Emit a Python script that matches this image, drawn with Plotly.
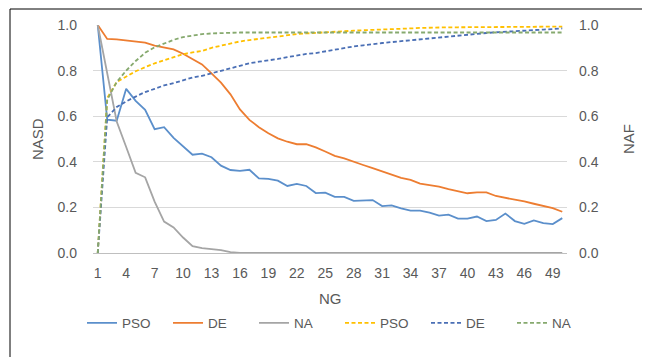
import plotly.graph_objects as go

ng = list(range(1, 51))
tick_labels = [1, 4, 7, 10, 13, 16, 19, 22, 25, 28, 31, 34, 37, 40, 43, 46, 49]

nasd_pso = [1.0, 0.585, 0.58, 0.72, 0.667, 0.628, 0.543, 0.552, 0.505, 0.468,
            0.431, 0.436, 0.42, 0.383, 0.364, 0.36, 0.365, 0.327, 0.325, 0.317,
            0.294, 0.303, 0.294, 0.263, 0.265, 0.246, 0.246, 0.229, 0.232, 0.232,
            0.206, 0.209, 0.196, 0.186, 0.186, 0.177, 0.164, 0.168, 0.151, 0.151,
            0.16, 0.14, 0.145, 0.173, 0.14, 0.128, 0.143, 0.131, 0.127, 0.153]
nasd_de = [1.0, 0.939, 0.937, 0.933, 0.928, 0.923, 0.91, 0.903, 0.893, 0.874,
           0.852, 0.827, 0.788, 0.747, 0.696, 0.63, 0.584, 0.552, 0.525, 0.503,
           0.488, 0.477, 0.477, 0.463, 0.445, 0.426, 0.415, 0.402, 0.386, 0.372,
           0.357, 0.342, 0.33, 0.321, 0.304, 0.298, 0.291, 0.28, 0.27, 0.262,
           0.266, 0.266, 0.25, 0.242, 0.236, 0.226, 0.216, 0.206, 0.197, 0.181]
nasd_na = [1.0, 0.78, 0.577, 0.465, 0.352, 0.332, 0.225, 0.138, 0.112, 0.068,
           0.03, 0.021, 0.017, 0.013, 0.004, 0.0, 0.0, 0.0, 0.0, 0.0,
           0.0, 0.0, 0.0, 0.0, 0.0, 0.0, 0.0, 0.0, 0.0, 0.0,
           0.0, 0.0, 0.0, 0.0, 0.0, 0.0, 0.0, 0.0, 0.0, 0.0,
           0.0, 0.0, 0.0, 0.0, 0.0, 0.0, 0.0, 0.0, 0.0, 0.0]

naf_pso = [0.0, 0.68, 0.75, 0.772, 0.797, 0.815, 0.832, 0.845, 0.86, 0.872,
           0.88, 0.886, 0.9, 0.91, 0.92, 0.928, 0.934, 0.939, 0.947, 0.952,
           0.957, 0.96, 0.963, 0.966, 0.968, 0.971, 0.973, 0.975, 0.977, 0.978,
           0.98, 0.981, 0.983, 0.985, 0.987, 0.989, 0.99, 0.99, 0.99, 0.99,
           0.99, 0.991, 0.991, 0.991, 0.991, 0.992, 0.992, 0.992, 0.993, 0.993]
naf_de = [0.0, 0.595, 0.64, 0.665, 0.686, 0.706, 0.72, 0.735, 0.745, 0.759,
          0.77, 0.777, 0.788, 0.798, 0.81, 0.822, 0.832, 0.839, 0.844, 0.851,
          0.859, 0.867, 0.873, 0.877, 0.885, 0.892, 0.899, 0.906, 0.911, 0.917,
          0.921, 0.925, 0.929, 0.933, 0.939, 0.943, 0.947, 0.952, 0.955, 0.959,
          0.962, 0.965, 0.968, 0.971, 0.973, 0.976, 0.978, 0.98, 0.982, 0.985]
naf_na = [0.0, 0.672, 0.75, 0.8, 0.842, 0.878, 0.902, 0.92, 0.935, 0.947,
          0.955, 0.96, 0.963, 0.965, 0.966, 0.967, 0.967, 0.967, 0.967, 0.967,
          0.967, 0.967, 0.967, 0.967, 0.967, 0.967, 0.967, 0.967, 0.967, 0.967,
          0.967, 0.967, 0.967, 0.967, 0.967, 0.967, 0.967, 0.967, 0.967, 0.967,
          0.967, 0.967, 0.967, 0.967, 0.967, 0.967, 0.967, 0.967, 0.967, 0.967]

FONT = "Liberation Sans, Arial, sans-serif"
TXT = "#595959"
DASH = "4px,2.5px"

# the page body has an 8px margin; work in page pixels and convert
OFF = 8
W, H = 650 - OFF, 357 - OFF
L, R, T, B = 93 - OFF, 567 - OFF, 25 - OFF, 253 - OFF
PW, PH = R - L, B - T


def px_x(p):
    return (p - OFF - L) / PW


def px_y(p):
    return (B - (p - OFF)) / PH


fig = go.Figure()
series = [
    ("PSO", nasd_pso, "#5B8FCB", "solid", "y"),
    ("DE", nasd_de, "#ED7D31", "solid", "y"),
    ("NA", nasd_na, "#A5A5A5", "solid", "y"),
    ("PSO", naf_pso, "#FFC000", DASH, "y2"),
    ("DE", naf_de, "#4A6FB5", DASH, "y2"),
    ("NA", naf_na, "#86A96E", DASH, "y2"),
]
for name, vals, color, dash, yax in series:
    fig.add_trace(go.Scatter(
        x=ng, y=vals, name=name, mode="lines", yaxis=yax,
        line=dict(color=color, width=1.8, dash=dash),
        hoverinfo="skip",
    ))

fig.update_layout(
    width=W, height=H,
    margin=dict(l=L, r=W - R, t=T, b=H - B, autoexpand=False),
    paper_bgcolor="white", plot_bgcolor="white",
    font=dict(family=FONT, size=14, color=TXT),
    showlegend=True,
    legend=dict(
        orientation="h", x=px_x(82), xanchor="left", y=px_y(323), yanchor="middle",
        font=dict(size=13.5, color=TXT), entrywidth=41, entrywidthmode="pixels",
        bgcolor="rgba(0,0,0,0)",
    ),
    xaxis=dict(
        range=[0.5, 50.5], tickmode="array", tickvals=tick_labels,
        ticktext=[str(t) for t in tick_labels], showgrid=False, zeroline=False,
        showline=False, ticks="", ticklabelstandoff=10,
        tickfont=dict(size=14, color=TXT),
    ),
    yaxis=dict(
        range=[0, 1], dtick=0.2, tickformat=".1f", showgrid=True,
        gridcolor="#D9D9D9", gridwidth=1, zeroline=True, zerolinecolor="#BFBFBF",
        zerolinewidth=1, showline=False, ticks="", ticklabelstandoff=15,
        tickfont=dict(size=14, color=TXT),
    ),
    yaxis2=dict(
        range=[0, 1], dtick=0.2, tickformat=".1f", overlaying="y", side="right",
        showgrid=False, zeroline=False, showline=False, ticks="",
        ticklabelstandoff=11, tickfont=dict(size=14, color=TXT),
    ),
    annotations=[
        dict(text="NASD", xref="paper", yref="paper", x=px_x(37),
             y=0.5, textangle=-90, showarrow=False, xanchor="center",
             yanchor="middle", font=dict(size=15, color=TXT)),
        dict(text="NAF", xref="paper", yref="paper", x=px_x(628),
             y=0.5, textangle=-90, showarrow=False, xanchor="center",
             yanchor="middle", font=dict(size=15, color=TXT)),
        dict(text="NG", xref="paper", yref="paper", x=0.5,
             y=px_y(298), showarrow=False, xanchor="center",
             yanchor="middle", font=dict(size=15, color=TXT)),
    ],
    shapes=[
        dict(type="line", xref="paper", yref="paper",
             x0=px_x(10), x1=px_x(10), y0=px_y(9), y1=px_y(400),
             line=dict(color="#000000", width=1)),
        dict(type="line", xref="paper", yref="paper",
             x0=px_x(10), x1=px_x(700), y0=px_y(9), y1=px_y(9),
             line=dict(color="#000000", width=1)),
    ],
)

fig.write_html("out.html")
